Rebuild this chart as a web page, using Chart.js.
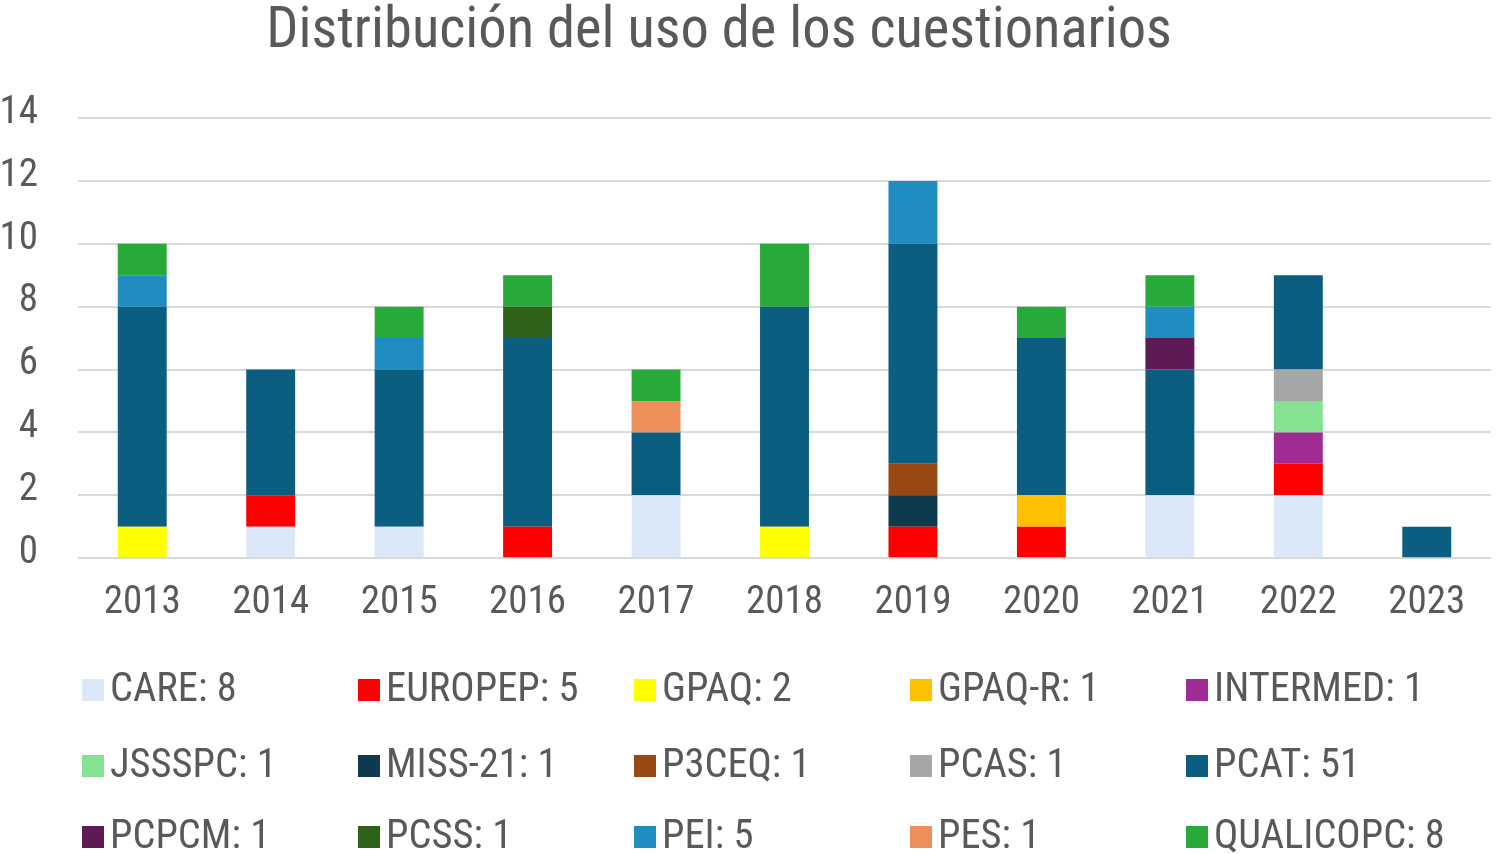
<!DOCTYPE html>
<html>
<head>
<meta charset="utf-8">
<script src="https://cdn.jsdelivr.net/npm/chart.js@4.4.1/dist/chart.umd.min.js"></script>
<style>
  html, body { margin: 0; padding: 0; background: #ffffff; width: 1496px; height: 854px; overflow: hidden; }
  #wrap { position: absolute; left: 0; top: 0; width: 1496px; height: 649px; }
  #title { position: absolute; left: 0; top: 0; width: 1438px; text-align: center;
    font-family: "Liberation Sans Narrow", "Arial Narrow", "Roboto Condensed", sans-serif;
    font-size: 56.5px; line-height: 1; color: #595959; white-space: nowrap; }
  #legend { position: absolute; left: 0; top: 0; width: 1496px; height: 854px;
    font-family: "Liberation Sans Narrow", "Arial Narrow", "Roboto Condensed", sans-serif;
    font-size: 40.5px; color: #595959; }
  .item { position: absolute; line-height: 41px; height: 41px; white-space: nowrap; }
  .sw { display: inline-block; width: 22px; height: 22px; margin-right: 6px; vertical-align: baseline; }
</style>
</head>
<body>
<div id="wrap"><canvas id="c"></canvas></div>
<div id="title"></div>
<div id="legend"></div>
<script>
const FONT = '"Liberation Sans Narrow", "Arial Narrow", "Roboto Condensed", sans-serif';
const TEXT = '#595959';

const titleText = 'Distribución del uso de los cuestionarios';
const years = ['2013','2014','2015','2016','2017','2018','2019','2020','2021','2022','2023'];
const yTicks = [0, 2, 4, 6, 8, 10, 12, 14];

// series values per year (2013..2023)
const CARE      = [0,1,1,0,2,0,0,0,2,2,0];
const EUROPEP   = [0,1,0,1,0,0,1,1,0,1,0];
const GPAQ      = [1,0,0,0,0,1,0,0,0,0,0];
const GPAQ_R    = [0,0,0,0,0,0,0,1,0,0,0];
const INTERMED  = [0,0,0,0,0,0,0,0,0,1,0];
const JSSSPC    = [0,0,0,0,0,0,0,0,0,1,0];
const MISS_21   = [0,0,0,0,0,0,1,0,0,0,0];
const P3CEQ     = [0,0,0,0,0,0,1,0,0,0,0];
const PCAS      = [0,0,0,0,0,0,0,0,0,1,0];
const PCAT      = [7,4,5,6,2,7,7,5,4,3,1];
const PCPCM     = [0,0,0,0,0,0,0,0,1,0,0];
const PCSS      = [0,0,0,1,0,0,0,0,0,0,0];
const PEI       = [1,0,1,0,0,0,2,0,1,0,0];
const PES       = [0,0,0,0,1,0,0,0,0,0,0];
const QUALICOPC = [1,0,1,1,1,2,0,1,1,0,0];

const seriesNames = ['CARE','EUROPEP','GPAQ','GPAQ-R','INTERMED','JSSSPC','MISS-21','P3CEQ','PCAS','PCAT','PCPCM','PCSS','PEI','PES','QUALICOPC'];
const seriesValues = [CARE, EUROPEP, GPAQ, GPAQ_R, INTERMED, JSSSPC, MISS_21, P3CEQ, PCAS, PCAT, PCPCM, PCSS, PEI, PES, QUALICOPC];
const seriesColors = ['#DAE8F7','#FF0000','#FFFF00','#FFC000','#A02B93','#84E291','#0E3A50','#984813','#A6A6A6','#0B5E80','#5E1A55','#2E6119','#1F8CC2','#EE8F5A','#28AA3A'];

const datasets = seriesNames.map((n, i) => ({
  label: n + ': ' + seriesValues[i].reduce((a, b) => a + b, 0),
  data: seriesValues[i],
  backgroundColor: seriesColors[i],
  borderWidth: 0,
  barPercentage: 0.381,
  categoryPercentage: 1.0
}));

new Chart(document.getElementById('c'), {
  type: 'bar',
  data: { labels: years, datasets },
  options: {
    responsive: true,
    maintainAspectRatio: false,
    animation: false,
    layout: { padding: { left: 0, right: 5, top: 118, bottom: 0 } },
    plugins: {
      legend: { display: false },
      tooltip: { enabled: false },
      title: { display: false }
    },
    scales: {
      x: {
        stacked: true,
        grid: { display: false, drawTicks: false },
        border: { display: false },
        ticks: { color: TEXT, font: { family: FONT, size: 39 }, padding: 22, maxRotation: 0 }
      },
      y: {
        stacked: true, min: 0, max: 14,
        afterBuildTicks: (s) => { s.ticks = yTicks.map(v => ({ value: v })); },
        afterFit: (s) => { s.width = 78; },
        grid: { color: '#D9D9D9', lineWidth: 2, drawTicks: false },
        border: { display: false },
        ticks: { color: TEXT, font: { family: FONT, size: 39 }, padding: 40, labelOffset: -5 }
      }
    }
  }
});

document.getElementById('title').textContent = titleText;

const leg = document.getElementById('legend');
const rowTops = [667, 743, 814];
datasets.forEach((d, i) => {
  const it = document.createElement('div'); it.className = 'item';
  it.style.left = (82 + (i % 5) * 276) + 'px';
  it.style.top = rowTops[Math.floor(i / 5)] + 'px';
  const sw = document.createElement('span'); sw.className = 'sw'; sw.style.background = d.backgroundColor;
  const tx = document.createElement('span'); tx.textContent = d.label;
  it.appendChild(sw); it.appendChild(tx); leg.appendChild(it);
});
</script>
</body>
</html>
